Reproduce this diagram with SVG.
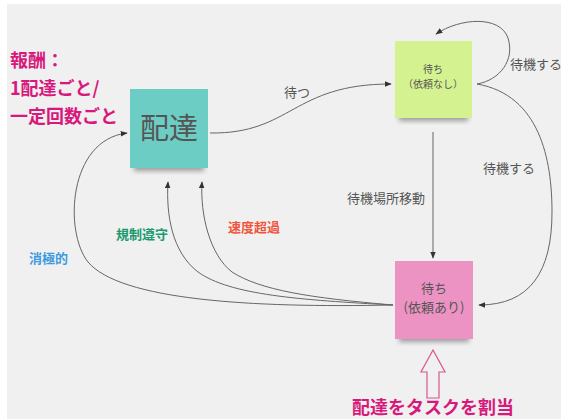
<svg xmlns="http://www.w3.org/2000/svg" width="561" height="419" viewBox="0 0 561 419">
<defs>
<style>
.lbl{font-family:"Noto Sans CJK JP","Noto Sans",sans-serif;font-size:13px;fill:#555;}
.edge{fill:none;stroke:#666;stroke-width:1;}
.note{font-family:"Noto Sans CJK JP","Noto Sans",sans-serif;fill:#555;text-anchor:middle;}
.mag{font-family:"Noto Sans CJK JP","Noto Sans",sans-serif;font-weight:bold;font-size:18px;fill:#d8197c;}
.cat{font-family:"Noto Sans CJK JP","Noto Sans",sans-serif;font-weight:bold;font-size:13px;}
</style>
<marker id="ah" viewBox="0 0 10 10" refX="9" refY="5" markerWidth="7" markerHeight="7" orient="auto" markerUnits="userSpaceOnUse">
<path d="M0,1 L10,5 L0,9 Z" fill="#333"/>
</marker>
<filter id="sh" x="-20%" y="-50%" width="140%" height="200%">
<feGaussianBlur stdDeviation="2.5"/>
</filter>
</defs>
<rect width="561" height="419" fill="#ffffff"/>
<rect x="7" y="4" width="554" height="415" fill="#f0f0f0"/>

<g id="reward-text">
<text class="mag" x="10" y="67">報酬：</text>
<text class="mag" x="10" y="95">1配達ごと/</text>
<text class="mag" x="10" y="123">一定回数ごと</text>
</g>

<g id="connectors">
<path class="edge" d="M210,133 C 292,134 292,84 391,84" marker-end="url(#ah)"/>
<path class="edge" d="M477,84 C 500,80 515,60 508,38 C 500,15 460,18 436,34" marker-end="url(#ah)"/>
<path class="edge" d="M433,132 L433,258" marker-end="url(#ah)"/>
<path class="edge" d="M477,84 C 540,95 552,160 552,212 C 552,272 530,305 479,305" marker-end="url(#ah)"/>
<path class="edge" d="M393,305 C 250,308 120,300 88,262 C 64,232 68,140 127,133" marker-end="url(#ah)"/>
<path class="edge" d="M393,305 C 300,300 230,295 198,272 C 172,252 166,215 168,182" marker-end="url(#ah)"/>
<path class="edge" d="M393,305 C 310,298 260,290 232,272 C 210,255 200,215 202,182" marker-end="url(#ah)"/>
<text class="lbl" x="284" y="97">待つ</text>
<text class="lbl" x="510" y="69">待機する</text>
<text class="lbl" x="347" y="203">待機場所移動</text>
<text class="lbl" x="483" y="173">待機する</text>
<text class="cat" x="29" y="263" fill="#3d9ae0">消極的</text>
<text class="cat" x="116" y="239" fill="#1c9a70">規制遵守</text>
<text class="cat" x="228" y="232" fill="#f0553c">速度超過</text>
</g>

<g id="node-delivery">
<rect x="134" y="163" width="70" height="8" fill="#000" opacity="0.35" filter="url(#sh)"/>
<rect x="130" y="89" width="78" height="79" fill="#6ccdc4"/>
<text class="note" x="169" y="139" font-size="29" fill="#333">配達</text>
</g>

<g id="node-wait-none">
<rect x="399" y="113" width="69" height="8" fill="#000" opacity="0.35" filter="url(#sh)"/>
<rect x="395" y="41" width="77" height="77" fill="#d5f290"/>
<text class="note" x="433" y="73" font-size="10">待ち</text>
<text class="note" x="433" y="88" font-size="10">（依頼なし）</text>
</g>

<g id="node-wait-req">
<rect x="399" y="334" width="70" height="8" fill="#000" opacity="0.35" filter="url(#sh)"/>
<rect x="395" y="261" width="78" height="78" fill="#ed93c4"/>
<text class="note" x="434" y="293" font-size="13">待ち</text>
<text class="note" x="434" y="312" font-size="13">(依頼あり)</text>
</g>

<g id="assign">
<path d="M433,350 L445,372 L439,372 L439,398 L427,398 L427,372 L421,372 Z" fill="none" stroke="#d9558f" stroke-width="1.2"/>
<text class="mag" x="433" y="414" text-anchor="middle">配達をタスクを割当</text>
</g>
</svg>
